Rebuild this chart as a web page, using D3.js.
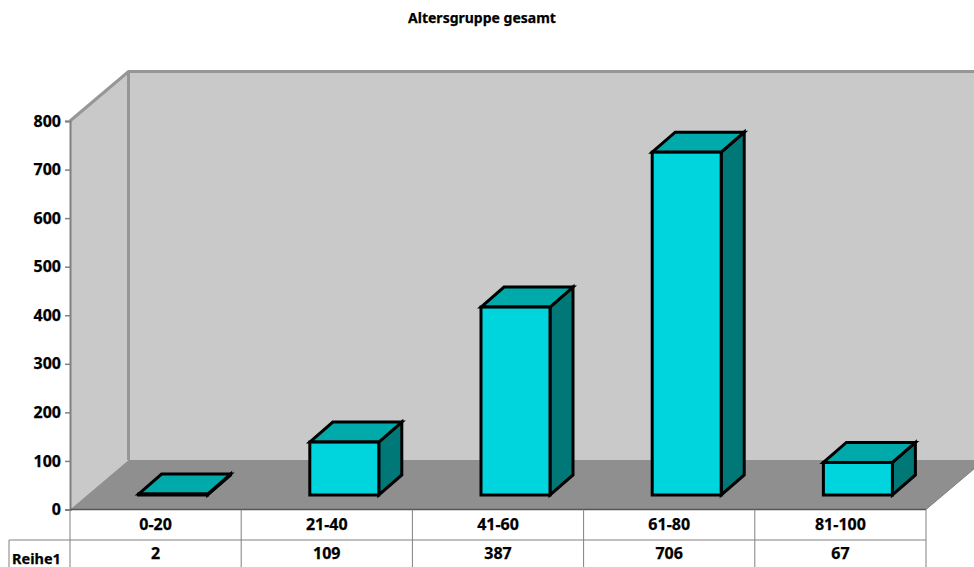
<!DOCTYPE html>
<html>
<head>
<meta charset="utf-8">
<script src="https://cdn.jsdelivr.net/npm/d3@7"></script>
<style>
  html, body { margin: 0; padding: 0; background: #fff; overflow: hidden; }
  text { font-family: "Noto Sans", sans-serif; font-weight: 700; fill: #000; stroke: #000; stroke-width: 0.25px; }
</style>
</head>
<body>
<div id="chart"></div>
<script>
// Data
const categories = ["0-20", "21-40", "41-60", "61-80", "81-100"];
const values = [2, 109, 387, 706, 67];
const seriesName = "Reihe1";
const yTicks = [0, 100, 200, 300, 400, 500, 600, 700, 800];
const chartTitle = "Altersgruppe gesamt";

const width = 974, height = 567;

const svg = d3.select("#chart").append("svg")
    .attr("width", width)
    .attr("height", height);

// front plane of the plot box
const x = d3.scaleBand().domain(categories).range([70, 926]);
const y = d3.scaleLinear().domain([0, 800]).range([509.5, 121]);

// 3d offsets
const wall = {dx: 58.5, dy: -49.5};
const barShift = {dx: 17.5, dy: -14.5};
const barDepth = {dx: 23, dy: -20};
const barWidth = 69;

const pts = a => a.map(p => p.join(",")).join(" ");

let yTop = y(800), yBase = y(0), xL = x.range()[0], xR = x.range()[1];

// back wall
svg.append("polygon")
    .attr("points", pts([[xL + wall.dx, yTop + wall.dy], [xR + wall.dx, yTop + wall.dy], [xR + wall.dx, yBase + wall.dy], [xL + wall.dx, yBase + wall.dy]]))
    .attr("fill", "#c9c9c9");

// left wall
svg.append("polygon")
    .attr("points", pts([[xL, yTop], [xL + wall.dx, yTop + wall.dy], [xL + wall.dx, yBase + wall.dy], [xL, yBase]]))
    .attr("fill", "#c9c9c9");

// floor
svg.append("polygon")
    .attr("points", pts([[xL, yBase], [xL + wall.dx, yBase + wall.dy], [xR + wall.dx, yBase + wall.dy], [xR, yBase]]))
    .attr("fill", "#8f8f8f");

// wall edges
svg.append("polyline")
    .attr("points", pts([[xL, yTop], [xL + wall.dx, yTop + wall.dy], [xR + wall.dx, yTop + wall.dy]]))
    .attr("fill", "none")
    .attr("stroke", "#969696")
    .attr("stroke-width", 3);
svg.append("line")
    .attr("x1", xL + wall.dx).attr("x2", xL + wall.dx)
    .attr("y1", yTop + wall.dy).attr("y2", yBase + wall.dy)
    .attr("stroke", "#969696")
    .attr("stroke-width", 3);

// bars
let bars = svg.append("g").selectAll("g")
    .data(categories.map((c, i) => ({cat: c, val: values[i]})))
    .enter().append("g")
    .attr("stroke", "#000")
    .attr("stroke-width", 3)
    .attr("stroke-linejoin", "miter");

function barBox(d) {
    let cx = x(d.cat) + x.bandwidth() / 2 + barShift.dx;
    return {
        x0: cx - barWidth / 2,
        x1: cx + barWidth / 2,
        top: y(d.val) + barShift.dy,
        bottom: yBase + barShift.dy
    };
}

bars.append("polygon")
    .attr("fill", "#007878")
    .attr("points", d => {
        let b = barBox(d);
        return pts([[b.x1, b.top], [b.x1 + barDepth.dx, b.top + barDepth.dy], [b.x1 + barDepth.dx, b.bottom + barDepth.dy], [b.x1, b.bottom]]);
    });
bars.append("polygon")
    .attr("fill", "#00aaaa")
    .attr("points", d => {
        let b = barBox(d);
        return pts([[b.x0, b.top], [b.x0 + barDepth.dx, b.top + barDepth.dy], [b.x1 + barDepth.dx, b.top + barDepth.dy], [b.x1, b.top]]);
    });
bars.append("rect")
    .attr("fill", "#00d4dc")
    .attr("x", d => barBox(d).x0)
    .attr("y", d => barBox(d).top)
    .attr("width", barWidth)
    .attr("height", d => barBox(d).bottom - barBox(d).top);

// y axis
let yAxis = svg.append("g")
    .attr("transform", `translate(${xL},0)`)
    .call(d3.axisLeft(y).tickValues(yTicks).tickSize(5).tickPadding(4).tickFormat(d3.format("d")));
yAxis.select(".domain").attr("stroke", "#808080").attr("stroke-width", 2);
yAxis.selectAll(".tick line").attr("stroke", "#808080").attr("stroke-width", 1.5);
yAxis.selectAll("text")
    .style("font-size", "16px")
    .attr("fill", "#000");

// data table below the plot
const rowTop = yBase, rowMid = 540, rowBottom = 567;
let grid = svg.append("g").attr("stroke", "#808080").attr("stroke-width", 1);
grid.append("line").attr("x1", xL).attr("x2", xR).attr("y1", rowTop).attr("y2", rowTop).attr("stroke", "#555").attr("stroke-width", 1.5);
grid.append("line").attr("x1", 9).attr("x2", xR).attr("y1", rowMid).attr("y2", rowMid);
grid.append("line").attr("x1", 9).attr("x2", 9).attr("y1", rowMid).attr("y2", rowBottom);
grid.selectAll(".col")
    .data(categories)
    .enter().append("line")
    .attr("class", "col")
    .attr("x1", d => x(d)).attr("x2", d => x(d))
    .attr("y1", rowTop).attr("y2", rowBottom);
grid.append("line").attr("x1", xR).attr("x2", xR).attr("y1", rowTop).attr("y2", rowBottom);
// floor front right corner
svg.append("line")
    .attr("x1", xR).attr("y1", rowTop)
    .attr("x2", xR + wall.dx).attr("y2", rowTop + wall.dy)
    .attr("stroke", "#808080");

svg.selectAll(".catLabel")
    .data(categories)
    .enter().append("text")
    .attr("class", "catLabel")
    .attr("x", d => x(d) + x.bandwidth() / 2)
    .attr("y", 530)
    .attr("text-anchor", "middle")
    .style("font-size", "16px")
    .text(d => d);

svg.selectAll(".valLabel")
    .data(values)
    .enter().append("text")
    .attr("class", "valLabel")
    .attr("x", (d, i) => x(categories[i]) + x.bandwidth() / 2)
    .attr("y", 559)
    .attr("text-anchor", "middle")
    .style("font-size", "16px")
    .text(d => d);

svg.append("text")
    .attr("x", 12)
    .attr("y", 564)
    .style("font-size", "14.5px")
    .text(seriesName);

svg.append("text")
    .attr("x", 482)
    .attr("y", 23)
    .attr("text-anchor", "middle")
    .style("font-size", "14px")
    .text(chartTitle);
</script>
</body>
</html>
